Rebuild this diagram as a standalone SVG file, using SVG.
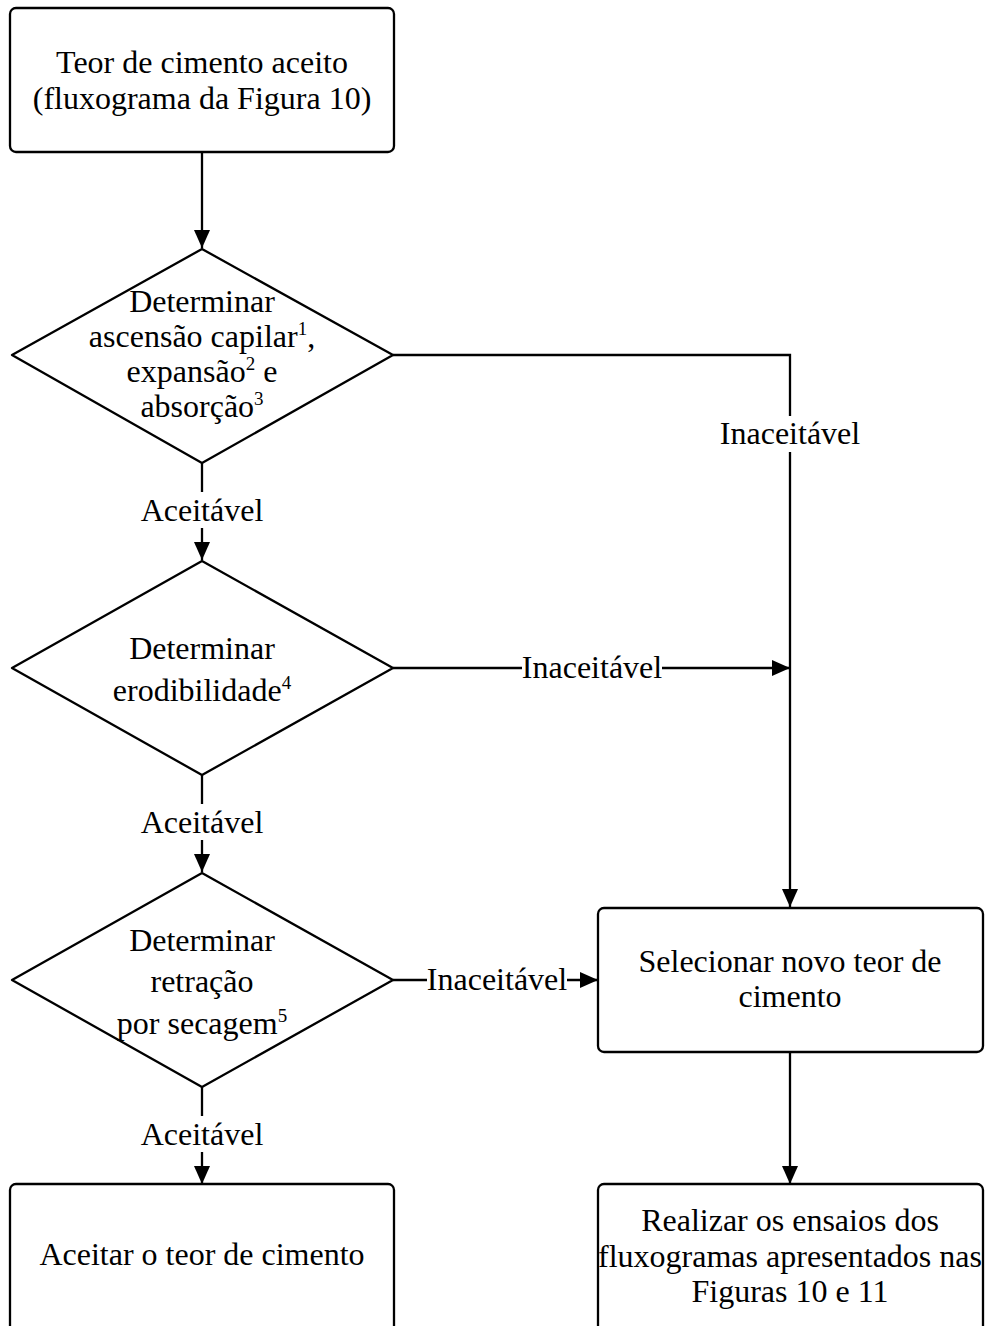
<svg xmlns="http://www.w3.org/2000/svg" width="987" height="1326" viewBox="0 0 987 1326">
<defs>
<marker id="ah" markerWidth="18" markerHeight="16" refX="18" refY="8" orient="auto" markerUnits="userSpaceOnUse">
<path d="M0,0 L18,8 L0,16 Z" fill="#000"/>
</marker>
</defs>
<style>
.box{fill:#fff;stroke:#000;stroke-width:2.3;stroke-linejoin:round}
.t{font-family:"Liberation Serif","Times New Roman",serif;font-size:32px;fill:#000;text-anchor:middle}
.sup{font-size:19px}
.c{fill:none;stroke:#000;stroke-width:2.3}
.bg{fill:#fff}
</style>
<rect width="987" height="1326" fill="#fff"/>
<g id="connectors">
<path class="c" d="M202,152 L202,248" marker-end="url(#ah)"/>
<path class="c" d="M393,355 L790,355 L790,907" marker-end="url(#ah)"/>
<rect class="bg" x="718" y="416" width="144" height="36"/>
<text class="t" x="790" y="444">Inaceitável</text>
<path class="c" d="M202,463 L202,560" marker-end="url(#ah)"/>
<rect class="bg" x="138" y="492" width="130" height="36"/>
<text class="t" x="202" y="521">Aceitável</text>
<path class="c" d="M393,668 L790,668" marker-end="url(#ah)"/>
<rect class="bg" x="522" y="650" width="140" height="36"/>
<text class="t" x="592" y="678">Inaceitável</text>
<path class="c" d="M202,775 L202,872" marker-end="url(#ah)"/>
<rect class="bg" x="138" y="804" width="130" height="36"/>
<text class="t" x="202" y="833">Aceitável</text>
<path class="c" d="M393,980 L598,980" marker-end="url(#ah)"/>
<rect class="bg" x="427" y="962" width="140" height="36"/>
<text class="t" x="497" y="990">Inaceitável</text>
<path class="c" d="M202,1087 L202,1184" marker-end="url(#ah)"/>
<rect class="bg" x="138" y="1116" width="130" height="36"/>
<text class="t" x="202" y="1145">Aceitável</text>
<path class="c" d="M790,1052 L790,1184" marker-end="url(#ah)"/>
</g>
<g id="n1">
<rect class="box" x="10" y="8" width="384" height="144" rx="6"/>
<text class="t" x="202" y="73">Teor de cimento aceito</text>
<text class="t" x="202" y="109">(fluxograma da Figura 10)</text>
</g>
<g id="d1">
<path class="box" d="M202,249 L393,355 L202,463 L12,355 Z"/>
<text class="t" x="202" y="312">Determinar</text>
<text class="t" x="202" y="347">ascensão capilar<tspan class="sup" dy="-12">1</tspan><tspan dy="12">,</tspan></text>
<text class="t" x="202" y="382">expansão<tspan class="sup" dy="-12">2</tspan><tspan dy="12"> e</tspan></text>
<text class="t" x="202" y="417">absorção<tspan class="sup" dy="-12">3</tspan></text>
</g>
<g id="d2">
<path class="box" d="M202,561 L393,668 L202,775 L12,668 Z"/>
<text class="t" x="202" y="659">Determinar</text>
<text class="t" x="202" y="701">erodibilidade<tspan class="sup" dy="-12">4</tspan></text>
</g>
<g id="d3">
<path class="box" d="M202,873 L393,980 L202,1087 L12,980 Z"/>
<text class="t" x="202" y="951">Determinar</text>
<text class="t" x="202" y="992">retração</text>
<text class="t" x="202" y="1034">por secagem<tspan class="sup" dy="-12">5</tspan></text>
</g>
<g id="n2">
<rect class="box" x="598" y="908" width="385" height="144" rx="6"/>
<text class="t" x="790" y="972">Selecionar novo teor de</text>
<text class="t" x="790" y="1007">cimento</text>
</g>
<g id="n3">
<rect class="box" x="10" y="1184" width="384" height="150" rx="6"/>
<text class="t" x="202" y="1265">Aceitar o teor de cimento</text>
</g>
<g id="n4">
<rect class="box" x="598" y="1184" width="385" height="150" rx="6"/>
<text class="t" x="790" y="1231">Realizar os ensaios dos</text>
<text class="t" x="790" y="1267">fluxogramas apresentados nas</text>
<text class="t" x="790" y="1302">Figuras 10 e 11</text>
</g>
</svg>
